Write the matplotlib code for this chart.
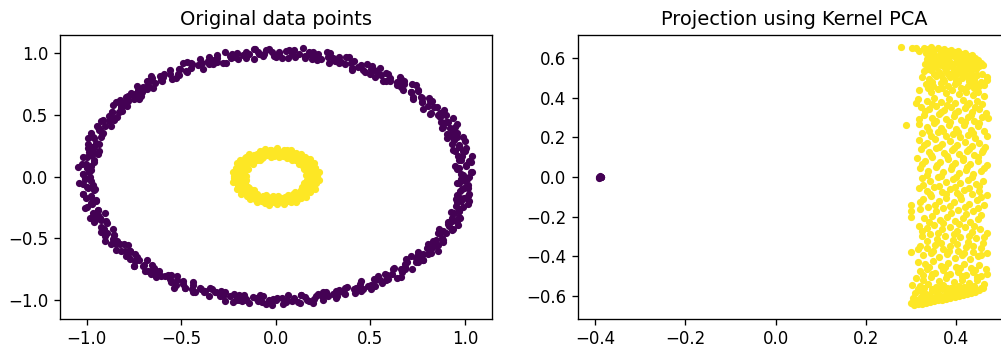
import numpy as np
import matplotlib
matplotlib.use("Agg")
import matplotlib.pyplot as plt

# ---------------- data ----------------
# Original data: outer ring (class 0) in polar form (degrees, radius)
outer_theta = [0, 1, 2, 4, 5, 5, 7, 8, 9,
    10, 12, 13, 13, 15, 16, 18, 19, 20, 21, 23, 24, 24, 26, 27, 29,
    30, 31, 32, 34, 35, 37, 38, 38, 40, 41, 43, 44, 45, 46, 48, 49,
    50, 52, 53, 54, 55, 57, 58, 59, 60, 61, 62, 64, 65, 66, 68, 69,
    70, 71, 73, 74, 75, 77, 78, 79, 80, 81, 82, 84, 85, 86, 88, 89,
    90, 91, 93, 94, 95, 96, 97, 99, 100, 102, 103, 104, 105, 107, 108, 109,
    110, 111, 113, 114, 116, 117, 118, 119, 120, 122, 123, 124, 125, 127, 128, 129,
    130, 131, 132, 134, 135, 136, 138, 139, 140, 142, 143, 144, 145, 146, 148, 149,
    150, 151, 153, 154, 155, 157, 158, 159, 160, 161, 162, 164, 165, 166, 167, 169,
    170, 171, 172, 174, 175, 176, 178, 179, 180, 181, 183, 184, 185, 186, 188, 189,
    190, 192, 193, 194, 196, 197, 198, 199, 200, 201, 202, 204, 205, 206, 208, 209,
    210, 212, 213, 214, 215, 217, 218, 219, 220, 221, 223, 224, 225, 226, 228, 229,
    230, 231, 232, 234, 235, 237, 238, 239, 240, 242, 243, 244, 245, 246, 248, 249,
    250, 251, 253, 254, 255, 257, 258, 259, 260, 261, 262, 264, 265, 266, 268, 269,
    270, 272, 273, 274, 275, 277, 278, 279, 280, 281, 283, 284, 285, 286, 288, 289,
    290, 291, 292, 294, 295, 297, 298, 299, 300, 302, 303, 304, 305, 306, 308, 309,
    310, 311, 313, 314, 315, 317, 318, 319, 320, 321, 322, 324, 325, 326, 328, 329,
    330, 332, 333, 334, 335, 337, 338, 339, 340, 341, 343, 344, 345, 346, 348, 349,
    350, 351, 352, 354, 355, 357, 358, 359,
    0.5, 2, 3.5, 5.5, 6.5, 8, 9.5, 11.5, 12.5, 14, 16, 17.5, 18.5, 19,
    20, 21, 23, 24.5, 26, 27, 29, 30.5, 32, 33.5, 35.5, 36.5, 38, 39.5,
    41.5, 42.5, 44, 46, 47.5, 48.5, 49, 50, 51, 53, 54.5, 56, 57, 59,
    60.5, 62, 63.5, 65.5, 66.5, 68, 69.5, 71.5, 72.5, 74, 76, 77.5, 78.5, 79,
    80, 81, 83, 84.5, 86, 87, 89, 90.5, 92, 93.5, 95.5, 96.5, 98, 99.5,
    101.5, 102.5, 104, 106, 107.5, 108.5, 109, 110, 111, 113, 114.5, 116, 117, 119,
    120.5, 122, 123.5, 125.5, 126.5, 128, 129.5, 131.5, 132.5, 134, 136, 137.5, 138.5, 139,
    140, 141, 143, 144.5, 146, 147, 149, 150.5, 152, 153.5, 155.5, 156.5, 158, 159.5,
    161.5, 162.5, 164, 166, 167.5, 168.5, 169, 170, 171, 173, 174.5, 176, 177, 179,
    180.5, 182, 183.5, 185.5, 186.5, 188, 189.5, 191.5, 192.5, 194, 196, 197.5, 198.5, 199,
    200, 201, 203, 204.5, 206, 207, 209, 210.5, 212, 213.5, 215.5, 216.5, 218, 219.5,
    221.5, 222.5, 224, 226, 227.5, 228.5, 229, 230, 231, 233, 234.5, 236, 237, 239,
    240.5, 242, 243.5, 245.5, 246.5, 248, 249.5, 251.5, 252.5, 254, 256, 257.5, 258.5, 259,
    260, 261, 263, 264.5, 266, 267, 269, 270.5, 272, 273.5, 275.5, 276.5, 278, 279.5,
    281.5, 282.5, 284, 286, 287.5, 288.5, 289, 290, 291, 293, 294.5, 296, 297, 299,
    300.5, 302, 303.5, 305.5, 306.5, 308, 309.5, 311.5, 312.5, 314, 316, 317.5, 318.5, 319,
    320, 321, 323, 324.5, 326, 327, 329, 330.5, 332, 333.5, 335.5, 336.5, 338, 339.5,
    341.5, 342.5, 344, 346, 347.5, 348.5, 349, 350, 351, 353, 354.5, 356, 357, 359]
outer_r = [1.02, 0.98, 1.04, 0.97, 1.01, 0.95, 1.03, 0.99, 1.05,
    0.98, 1.01, 0.96, 1.03, 1.00, 0.97, 1.04, 0.99, 1.02, 0.97, 1.00, 1.05, 0.96, 1.01, 0.98, 1.03,
    0.99, 1.04, 0.97, 1.01, 0.95, 1.02, 0.98, 1.03, 1.00, 0.96, 1.03, 0.99, 1.05, 0.97, 1.01, 0.98,
    1.03, 0.98, 1.00, 0.96, 1.02, 0.99, 1.04, 0.97, 1.01, 0.97, 1.03, 0.99, 0.95, 1.02, 0.98, 1.04,
    0.98, 1.02, 0.96, 1.01, 1.04, 0.97, 1.00, 1.03, 1.02, 0.99, 1.05, 0.97, 1.00, 1.03, 0.96, 1.01,
    0.97, 1.01, 1.03, 0.98, 1.00, 1.04, 0.96, 1.02, 1.00, 0.97, 1.02, 0.99, 1.04, 0.96, 1.01, 0.98,
    1.03, 0.98, 1.00, 0.95, 1.02, 0.99, 1.04, 0.97, 1.01, 0.97, 1.03, 1.00, 0.96, 1.02, 0.98, 1.05,
    0.99, 1.02, 0.97, 1.01, 1.04, 0.98, 1.00, 0.96, 1.02, 0.99, 1.03, 0.97, 1.00, 1.04, 0.98, 1.01,
    0.97, 1.01, 0.99, 1.03, 0.96, 1.02, 1.00, 0.98, 1.04, 0.98, 1.01, 0.97, 1.03, 0.99, 1.02, 0.96,
    1.00, 1.03, 0.97, 1.01, 0.98, 1.05, 0.99, 1.02, 0.98, 1.01, 1.04, 0.97, 1.00, 0.96, 1.03, 0.99,
    1.02, 0.97, 1.00, 1.04, 0.98, 1.01, 0.95, 1.03, 0.99, 1.03, 0.97, 1.01, 1.00, 0.96, 1.02, 0.98,
    1.04, 0.99, 1.01, 0.97, 1.03, 1.00, 0.98, 1.02, 0.97, 1.02, 0.99, 1.04, 0.96, 1.01, 1.03, 0.98,
    1.01, 0.98, 1.03, 1.00, 0.97, 1.02, 0.99, 1.05, 0.98, 1.02, 0.96, 1.01, 1.03, 0.99, 1.00, 0.97,
    1.03, 0.99, 1.01, 0.97, 1.04, 0.98, 1.02, 1.00, 0.97, 1.01, 1.03, 0.99, 0.96, 1.02, 1.00, 1.04,
    1.00, 0.98, 1.02, 0.96, 1.01, 1.03, 0.97, 0.99, 1.02, 1.04, 0.98, 1.00, 0.97, 1.01, 1.03, 0.99,
    0.98, 1.01, 0.97, 1.03, 1.00, 1.02, 0.96, 1.04, 1.01, 0.99, 1.03, 0.97, 1.02, 0.98, 1.00, 1.05,
    0.97, 1.02, 1.00, 1.04, 0.98, 1.01, 0.96, 1.03, 1.00, 0.97, 1.02, 0.99, 1.05, 1.01, 0.98, 1.03,
    1.02, 0.98, 1.01, 0.96, 1.03, 0.99, 1.04, 1.00, 0.99, 1.03, 0.97, 1.01, 1.00, 1.02, 0.98, 1.04,
    1.01, 0.97, 1.03, 0.99, 1.02, 0.96, 1.00, 0.98,
    0.99, 1.03, 0.96, 1.01, 1.04, 0.98, 1.00, 1.02, 0.97, 1.00, 1.04, 0.99, 1.01, 0.96,
    0.98, 1.01, 1.03, 0.97, 1.00, 1.05, 0.99, 1.01, 0.96, 1.02, 0.99, 1.03, 0.98, 1.00,
    0.97, 1.02, 0.99, 1.04, 0.98, 1.01, 1.03, 1.00, 1.04, 0.97, 1.02, 0.99, 0.96, 1.01,
    1.03, 0.98, 1.01, 0.97, 1.00, 1.04, 0.99, 0.99, 1.01, 1.04, 0.98, 1.02, 0.97, 1.00,
    1.01, 0.97, 1.00, 1.03, 0.96, 1.02, 0.99, 0.98, 1.03, 0.99, 1.01, 1.04, 1.00, 0.97,
    1.02, 0.99, 1.01, 0.96, 1.03, 0.98, 1.00, 0.97, 1.00, 1.03, 0.99, 1.01, 1.04, 0.98,
    1.01, 0.98, 0.96, 1.02, 1.00, 0.99, 1.03, 1.03, 1.00, 0.98, 1.01, 0.97, 1.02, 0.99,
    0.98, 1.02, 1.00, 1.04, 0.99, 0.97, 1.01, 1.00, 0.97, 1.02, 0.99, 1.03, 1.01, 0.98,
    1.02, 1.04, 0.99, 1.00, 0.96, 1.01, 0.98, 0.99, 1.01, 0.97, 1.03, 1.00, 0.98, 1.02,
    1.01, 0.98, 1.02, 1.00, 0.97, 1.03, 0.99, 0.97, 1.00, 1.03, 0.98, 1.01, 0.99, 1.04,
    1.02, 0.99, 0.97, 1.01, 1.03, 1.00, 0.98, 1.00, 1.03, 0.99, 0.96, 1.02, 0.98, 1.01,
    0.98, 1.01, 1.04, 1.00, 0.97, 1.02, 0.99, 1.03, 0.99, 1.01, 0.98, 1.00, 0.96, 1.02,
    1.00, 1.02, 0.98, 1.03, 0.99, 1.01, 0.97, 0.99, 0.97, 1.01, 1.00, 1.04, 0.98, 1.02,
    1.02, 1.00, 0.98, 1.01, 0.97, 1.03, 0.99, 0.98, 1.03, 1.00, 0.99, 1.02, 0.97, 1.01,
    1.01, 0.99, 1.03, 0.97, 1.00, 1.02, 0.98, 0.99, 1.02, 0.97, 1.00, 1.03, 0.98, 1.01,
    1.03, 0.98, 1.00, 1.02, 0.99, 1.04, 0.97, 1.00, 1.01, 0.98, 0.96, 1.02, 0.99, 1.03,
    0.98, 1.00, 1.03, 1.01, 0.97, 1.02, 0.99, 1.01, 0.97, 0.99, 1.03, 1.00, 0.98, 1.02,
    1.02, 0.99, 1.01, 0.98, 1.04, 1.00, 0.97, 0.99, 1.03, 0.98, 1.00, 1.02, 0.97, 1.01]

# Original data: inner ring (class 1)
inner_theta = [0, 2, 5, 7, 9, 12, 14, 16, 19, 21, 23, 26, 28,
    31, 33, 35, 38, 40, 42, 45, 47, 50, 52, 54, 56, 58,
    61, 63, 65, 68, 70, 72, 75, 77, 79, 82, 84, 87, 89,
    91, 93, 96, 98, 100, 103, 105, 107, 110, 112, 114, 117, 119,
    121, 124, 126, 128, 131, 133, 135, 138, 140, 142, 145, 147, 149,
    152, 154, 156, 159, 161, 163, 166, 168, 170, 173, 175, 177, 179,
    182, 184, 186, 189, 191, 193, 196, 198, 200, 203, 205, 207, 209,
    212, 214, 217, 219, 221, 224, 226, 228, 231, 233, 235, 238, 239,
    242, 244, 247, 249, 251, 254, 256, 258, 261, 263, 265, 268, 269,
    272, 274, 277, 279, 281, 284, 286, 288, 291, 293, 295, 298, 299,
    302, 304, 307, 309, 311, 314, 316, 318, 321, 323, 325, 328, 329,
    332, 334, 337, 339, 341, 344, 346, 348, 351, 353, 355, 357, 359,
    1, 6, 10, 15, 18, 24, 27, 33, 38, 41, 47, 50, 55, 59,
    61, 66, 70, 75, 78, 84, 87, 93, 98, 101, 107, 110, 115, 119,
    121, 126, 130, 135, 138, 144, 147, 153, 158, 161, 167, 170, 175, 179,
    181, 186, 190, 195, 198, 204, 207, 213, 218, 221, 227, 230, 235, 239,
    241, 246, 250, 255, 258, 264, 267, 273, 278, 281, 287, 290, 295, 299,
    301, 306, 310, 315, 318, 324, 327, 333, 338, 341, 347, 350, 355, 359]
inner_r = [0.19, 0.22, 0.16, 0.20, 0.23, 0.17, 0.21, 0.18, 0.22, 0.16, 0.20, 0.19, 0.23,
    0.17, 0.21, 0.19, 0.23, 0.16, 0.20, 0.22, 0.18, 0.21, 0.17, 0.23, 0.19, 0.16,
    0.22, 0.18, 0.20, 0.16, 0.23, 0.19, 0.21, 0.17, 0.22, 0.20, 0.16, 0.18, 0.23,
    0.20, 0.17, 0.22, 0.19, 0.16, 0.21, 0.23, 0.18, 0.20, 0.22, 0.17, 0.19, 0.21,
    0.16, 0.21, 0.18, 0.23, 0.20, 0.17, 0.22, 0.19, 0.16, 0.21, 0.23, 0.18, 0.20,
    0.23, 0.19, 0.16, 0.21, 0.18, 0.22, 0.20, 0.17, 0.23, 0.19, 0.21, 0.16, 0.22,
    0.18, 0.22, 0.20, 0.16, 0.23, 0.19, 0.17, 0.21, 0.18, 0.22, 0.20, 0.23, 0.17,
    0.21, 0.17, 0.23, 0.19, 0.20, 0.16, 0.22, 0.18, 0.21, 0.23, 0.17, 0.20, 0.19,
    0.19, 0.23, 0.17, 0.21, 0.16, 0.20, 0.22, 0.18, 0.23, 0.19, 0.16, 0.21, 0.20,
    0.22, 0.16, 0.20, 0.18, 0.23, 0.21, 0.17, 0.19, 0.22, 0.16, 0.20, 0.23, 0.18,
    0.17, 0.20, 0.22, 0.16, 0.19, 0.23, 0.18, 0.21, 0.17, 0.20, 0.22, 0.19, 0.16,
    0.20, 0.23, 0.18, 0.21, 0.16, 0.19, 0.22, 0.17, 0.20, 0.23, 0.18, 0.21, 0.19,
    0.18, 0.21, 0.20, 0.17, 0.22, 0.19, 0.21, 0.20, 0.18, 0.22, 0.19, 0.17, 0.21, 0.20,
    0.21, 0.19, 0.17, 0.22, 0.20, 0.18, 0.19, 0.19, 0.22, 0.20, 0.18, 0.21, 0.17, 0.20,
    0.20, 0.17, 0.21, 0.19, 0.22, 0.20, 0.18, 0.18, 0.20, 0.22, 0.17, 0.19, 0.21, 0.20,
    0.21, 0.19, 0.18, 0.20, 0.17, 0.22, 0.19, 0.19, 0.21, 0.17, 0.20, 0.22, 0.18, 0.21,
    0.20, 0.18, 0.21, 0.22, 0.19, 0.17, 0.20, 0.17, 0.20, 0.19, 0.21, 0.18, 0.22, 0.19,
    0.22, 0.19, 0.20, 0.18, 0.21, 0.20, 0.17, 0.19, 0.21, 0.18, 0.20, 0.17, 0.22, 0.21]

# Kernel PCA projection: class 0 (collapsed cluster)
proj0_x = [-0.392, -0.389, -0.387, -0.390, -0.388, -0.391, -0.386, -0.389]
proj0_y = [0.001, -0.002, 0.002, 0.003, -0.001, -0.003, 0.000, 0.001]

# Kernel PCA projection: class 1
proj1_pts = [
    (0.330,0.652),(0.338,0.645),(0.345,0.655),(0.352,0.640),(0.360,0.650),(0.367,0.638),(0.374,0.648),(0.382,0.635),(0.390,0.642),(0.398,0.630),(0.405,0.636),(0.413,0.622),(0.420,0.628),(0.428,0.612),(0.435,0.618),(0.442,0.600),(0.448,0.590),(0.455,0.578),(0.460,0.568),
    (0.334,0.628),(0.342,0.615),(0.350,0.625),(0.357,0.608),(0.364,0.620),(0.372,0.605),(0.379,0.622),(0.386,0.610),(0.394,0.618),(0.401,0.603),(0.409,0.612),(0.416,0.598),(0.424,0.605),(0.431,0.590),(0.438,0.580),(0.446,0.572),(0.452,0.560),
    (0.336,0.598),(0.344,0.585),(0.353,0.595),(0.361,0.580),(0.369,0.590),(0.377,0.575),(0.385,0.588),(0.393,0.572),(0.402,0.582),(0.411,0.568),(0.419,0.578),(0.427,0.562),(0.436,0.555),(0.444,0.548),
    (0.332,0.570),(0.340,0.560),(0.348,0.572),(0.357,0.555),(0.366,0.565),(0.375,0.550),(0.384,0.560),(0.396,0.548),(0.408,0.555),(0.417,0.542),
    (0.278,0.655),(0.302,0.650),(0.312,0.652),(0.318,0.638),
    (0.330,0.535),(0.345,0.540),(0.362,0.530),(0.378,0.538),(0.392,0.525),(0.405,0.532),(0.420,0.520),(0.433,0.528),(0.447,0.515),(0.458,0.522),(0.468,0.508),
    (0.325,0.505),(0.340,0.495),(0.355,0.510),(0.372,0.498),(0.388,0.505),(0.401,0.490),(0.414,0.500),(0.428,0.485),(0.441,0.495),(0.455,0.480),(0.470,0.490),
    (0.333,0.470),(0.350,0.462),(0.366,0.475),(0.382,0.458),(0.397,0.468),(0.411,0.452),(0.426,0.462),(0.440,0.448),(0.452,0.458),
    (0.318,0.440),(0.344,0.432),(0.360,0.445),(0.377,0.425),(0.392,0.438),(0.407,0.420),(0.423,0.430),(0.437,0.415),(0.450,0.428),(0.462,0.410),
    (0.338,0.548),(0.352,0.520),(0.367,0.515),(0.383,0.522),(0.398,0.510),(0.413,0.515),(0.427,0.505),(0.440,0.500),(0.346,0.478),(0.374,0.488),(0.404,0.478),(0.433,0.470),
    (0.462,0.465),(0.338,0.452),(0.369,0.450),(0.418,0.445),(0.445,0.470),(0.356,0.602),(0.381,0.598),(0.407,0.590),(0.430,0.575),(0.423,0.548),(0.432,0.545),
    (0.316,0.395),(0.335,0.385),(0.352,0.398),(0.368,0.380),(0.384,0.392),(0.399,0.375),(0.415,0.388),(0.430,0.372),(0.446,0.385),(0.458,0.368),
    (0.322,0.355),(0.340,0.345),(0.357,0.360),(0.373,0.340),(0.390,0.352),(0.405,0.335),(0.421,0.348),(0.436,0.330),(0.452,0.342),(0.466,0.325),
    (0.329,0.312),(0.346,0.300),(0.362,0.318),(0.379,0.295),(0.395,0.308),(0.411,0.290),(0.427,0.305),(0.441,0.285),(0.472,0.300),
    (0.290,0.262),(0.318,0.270),(0.335,0.255),(0.351,0.272),(0.368,0.250),(0.385,0.265),(0.401,0.245),(0.418,0.262),(0.434,0.240),(0.449,0.258),(0.463,0.235),
    (0.325,0.222),(0.344,0.210),(0.360,0.228),(0.377,0.205),(0.394,0.218),(0.410,0.200),(0.426,0.215),(0.443,0.198),
    (0.318,0.185),(0.336,0.172),(0.353,0.190),(0.370,0.165),(0.387,0.180),(0.403,0.160),(0.420,0.175),(0.436,0.155),(0.452,0.170),(0.465,0.150),
    (0.322,0.140),(0.340,0.128),(0.357,0.145),(0.374,0.120),(0.391,0.135),(0.408,0.115),(0.424,0.130),(0.440,0.110),(0.457,0.125),
    (0.314,0.095),(0.331,0.082),(0.348,0.100),(0.365,0.075),(0.382,0.090),(0.398,0.070),(0.415,0.085),(0.431,0.065),(0.448,0.080),(0.470,0.060),
    (0.320,0.045),(0.338,0.032),(0.355,0.050),(0.372,0.025),(0.389,0.040),(0.406,0.020),(0.422,0.035),(0.439,0.015),(0.455,0.030),
    (0.325,-0.005),(0.343,-0.018),(0.360,0.000),(0.377,-0.025),(0.394,-0.010),(0.410,-0.030),(0.427,-0.015),(0.444,-0.035),(0.460,-0.020),
    (0.318,-0.055),(0.335,-0.068),(0.352,-0.050),(0.369,-0.075),(0.386,-0.060),(0.402,-0.080),(0.419,-0.065),(0.436,-0.085),(0.452,-0.070),(0.468,-0.090),
    (0.327,-0.110),(0.345,-0.098),(0.362,-0.120),(0.379,-0.105),(0.396,-0.128),(0.412,-0.112),(0.429,-0.135),(0.446,-0.118),(0.462,-0.140),
    (0.300,-0.140),(0.301,-0.170),(0.300,-0.200),(0.320,-0.160),(0.338,-0.150),(0.355,-0.172),(0.372,-0.158),(0.389,-0.180),(0.405,-0.165),(0.422,-0.188),(0.439,-0.170),(0.455,-0.192),
    (0.330,-0.205),(0.347,-0.195),(0.364,-0.215),(0.381,-0.200),(0.398,-0.222),(0.415,-0.208),(0.432,-0.228),(0.449,-0.212),
    (0.318,-0.245),(0.335,-0.258),(0.352,-0.240),(0.369,-0.265),(0.386,-0.250),(0.403,-0.272),(0.420,-0.255),(0.436,-0.278),(0.453,-0.262),(0.468,-0.285),
    (0.325,-0.300),(0.342,-0.290),(0.359,-0.312),(0.376,-0.298),(0.393,-0.320),(0.410,-0.305),(0.427,-0.328),(0.444,-0.310),(0.460,-0.332),
    (0.300,-0.380),(0.320,-0.348),(0.337,-0.360),(0.354,-0.342),(0.371,-0.365),(0.388,-0.350),(0.405,-0.372),(0.422,-0.355),(0.439,-0.378),(0.456,-0.360),(0.470,-0.382),
    (0.328,-0.395),(0.345,-0.385),(0.362,-0.402),(0.380,-0.390),(0.397,-0.410),(0.414,-0.395),(0.431,-0.415),(0.448,-0.400),
    (0.312,0.372),(0.347,0.368),(0.381,0.362),(0.424,0.365),(0.442,0.352),(0.331,0.335),(0.366,0.328),(0.398,0.322),(0.433,0.312),(0.458,0.305),
    (0.318,0.292),(0.355,0.285),(0.388,0.278),(0.420,0.280),(0.452,0.272),(0.341,0.235),(0.372,0.232),(0.405,0.228),(0.438,0.222),(0.468,0.210),
    (0.330,0.160),(0.362,0.152),(0.396,0.148),(0.428,0.142),(0.460,0.135),(0.345,0.110),(0.380,0.105),(0.415,0.098),(0.450,0.100),(0.325,0.065),
    (0.358,0.060),(0.392,0.055),(0.425,0.050),(0.462,0.045),(0.335,0.012),(0.368,0.005),(0.400,-0.002),(0.435,0.000),(0.452,-0.045),(0.328,-0.040),
    (0.362,-0.045),(0.398,-0.050),(0.430,-0.055),(0.343,-0.088),(0.378,-0.085),(0.410,-0.095),(0.455,-0.102),(0.320,-0.128),(0.353,-0.140),(0.388,-0.145),
    (0.420,-0.150),(0.448,-0.155),(0.340,-0.225),(0.372,-0.232),(0.406,-0.238),(0.440,-0.245),(0.325,-0.272),(0.360,-0.282),(0.395,-0.288),(0.430,-0.298),
    (0.462,-0.305),(0.335,-0.325),(0.368,-0.335),(0.402,-0.340),(0.438,-0.348),(0.315,-0.365),(0.350,-0.375),(0.385,-0.372),(0.418,-0.385),(0.455,-0.392),
    (0.315,-0.430),(0.332,-0.442),(0.349,-0.425),(0.366,-0.448),(0.383,-0.435),(0.400,-0.455),(0.417,-0.440),(0.434,-0.460),(0.451,-0.445),(0.466,-0.465),
    (0.320,-0.475),(0.337,-0.465),(0.354,-0.485),(0.371,-0.470),(0.388,-0.490),(0.405,-0.478),(0.422,-0.495),(0.439,-0.482),(0.456,-0.500),(0.470,-0.488),
    (0.312,-0.510),(0.328,-0.520),(0.345,-0.505),(0.362,-0.525),(0.379,-0.512),(0.396,-0.530),(0.413,-0.518),(0.430,-0.535),(0.447,-0.522),(0.462,-0.540),
    (0.303,-0.545),(0.320,-0.550),(0.338,-0.540),(0.355,-0.555),(0.372,-0.545),(0.389,-0.560),(0.406,-0.550),(0.423,-0.562),(0.440,-0.552),(0.456,-0.560),
    (0.330,-0.560),(0.347,-0.565),(0.364,-0.560),(0.381,-0.560),(0.398,-0.570),(0.415,-0.568),(0.327,-0.495),(0.346,-0.490),(0.380,-0.495),(0.413,-0.500),(0.447,-0.505),
    (0.341,-0.455),(0.375,-0.455),(0.409,-0.462),(0.442,-0.470),(0.316,-0.565),(0.327,-0.628),(0.345,-0.620),(0.364,-0.612),(0.392,-0.596),(0.418,-0.588),
    (0.300,-0.638),(0.308,-0.645),(0.316,-0.640),(0.325,-0.642),(0.334,-0.636),(0.343,-0.632),(0.352,-0.628),(0.361,-0.624),(0.370,-0.620),(0.379,-0.615),(0.388,-0.610),(0.397,-0.606),(0.406,-0.602),(0.415,-0.598),(0.424,-0.592),(0.433,-0.586),(0.442,-0.580),(0.451,-0.572),(0.460,-0.562),
    (0.304,-0.610),(0.314,-0.620),(0.323,-0.605),(0.332,-0.615),(0.341,-0.600),(0.350,-0.610),(0.359,-0.595),(0.368,-0.603),(0.377,-0.590),(0.386,-0.598),(0.395,-0.585),(0.404,-0.590),(0.413,-0.578),(0.422,-0.583),(0.431,-0.570),(0.440,-0.565),
    (0.310,-0.585),(0.322,-0.578),(0.334,-0.590),(0.346,-0.575),(0.358,-0.582),(0.370,-0.568),(0.382,-0.575),(0.394,-0.562),(0.406,-0.570),(0.418,-0.558),(0.430,-0.552),
]

titles = ["Original data points", "Projection using Kernel PCA"]
color0 = "#440154"
color1 = "#fde725"

# ---------------- figure ----------------
DPI = 120
W, H = 1001, 347
fig = plt.figure(figsize=(W / DPI, H / DPI), dpi=DPI)

def px_axes(left, top, right, bottom):
    return fig.add_axes([left / W, 1 - bottom / H, (right - left) / W, (bottom - top) / H])

ax1 = px_axes(60, 35, 492, 318.7)
ax2 = px_axes(578, 35, 1010, 318.7)

to = np.deg2rad(outer_theta)
ti = np.deg2rad(inner_theta)
ro = np.array(outer_r)
ri = np.array(inner_r)
S = 11
ax1.scatter(ro * np.cos(to), ro * np.sin(to), s=S, color=color0)
ax1.scatter(ri * np.cos(ti), ri * np.sin(ti), s=S, color=color1)
ax1.set_xlim(-1.141, 1.143)
ax1.set_ylim(-1.151, 1.146)
ax1.set_xticks([-1.0, -0.5, 0.0, 0.5, 1.0])
ax1.set_yticks([-1.0, -0.5, 0.0, 0.5, 1.0])
ax1.set_title(titles[0], fontsize=11.6)

p1 = np.array(proj1_pts)
ax2.scatter(proj0_x, proj0_y, s=S, color=color0)
ax2.scatter(p1[:, 0], p1[:, 1], s=S, color=color1)
ax2.set_xlim(-0.438, 0.520)
ax2.set_ylim(-0.716, 0.718)
ax2.set_xticks([-0.4, -0.2, 0.0, 0.2, 0.4])
ax2.set_yticks([-0.6, -0.4, -0.2, 0.0, 0.2, 0.4, 0.6])
ax2.set_title(titles[1], fontsize=11.6)

fig.savefig("out.png", dpi=DPI)
